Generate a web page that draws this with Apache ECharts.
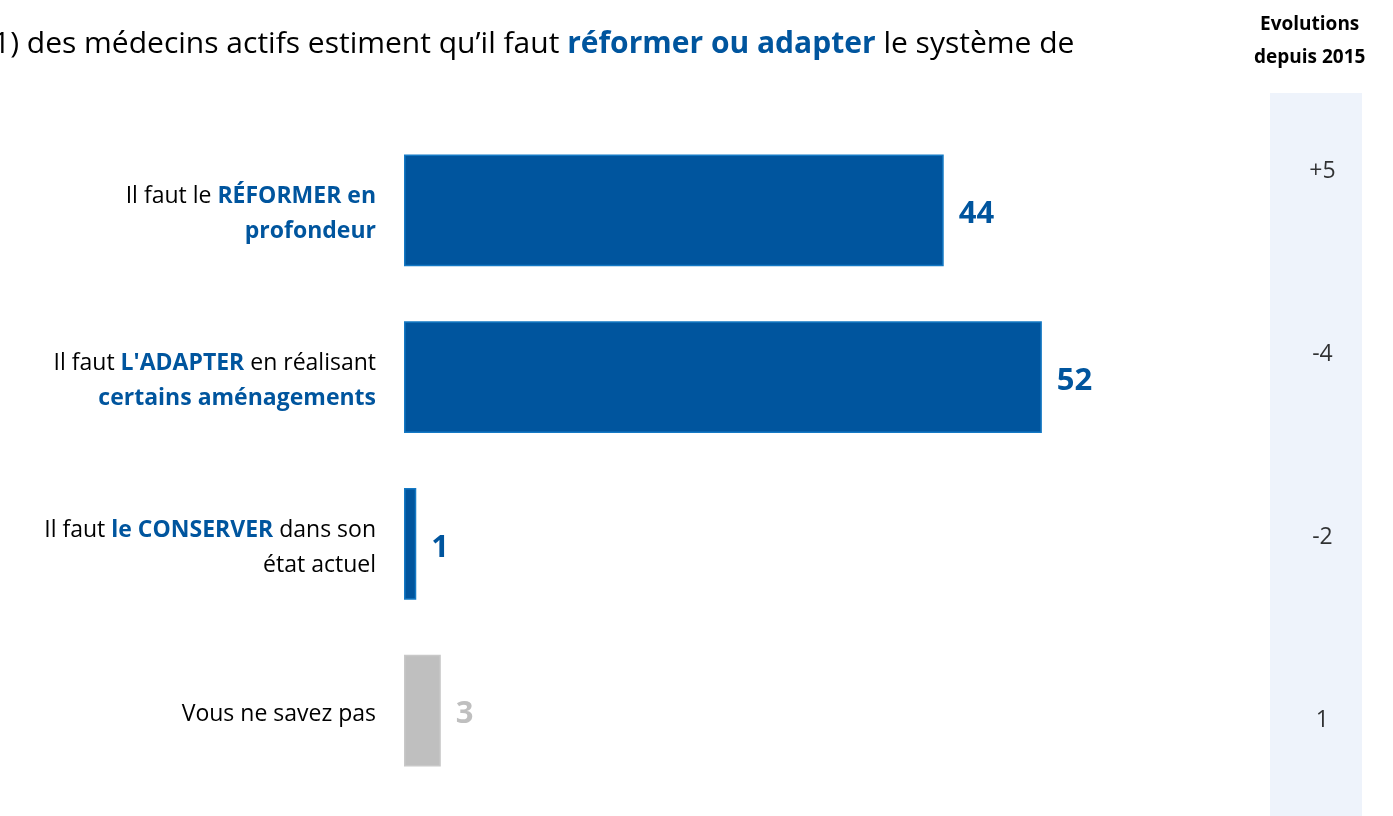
<!DOCTYPE html>
<html>
<head>
<meta charset="utf-8">
<script src="https://cdn.jsdelivr.net/npm/echarts@6/dist/echarts.min.js"></script>
<style>
  html, body { margin: 0; padding: 0; background: #fff; }
  #chart { width: 1393px; height: 816px; }
</style>
</head>
<body>
<div id="chart"></div>
<script>
// categories, top to bottom
var categories = [
  'Il faut le RÉFORMER en profondeur',
  "Il faut L'ADAPTER en réalisant certains aménagements",
  'Il faut le CONSERVER dans son état actuel',
  'Vous ne savez pas'
]
var shares = [44, 52, 1, 3]
var evolutions = ['+5', '-4', '-2', '1']

var blue = '#00559e'
var grey = '#bfbfbf'
var font = 'Open Sans'

// how each category label is split in lines / bold parts
var labelMarkup = {}
labelMarkup[categories[0]] = '{n|Il faut le }{b|RÉFORMER en}\n{b|profondeur}'
labelMarkup[categories[1]] = "{n|Il faut }{b|L'ADAPTER}{n| en réalisant}\n{b|certains aménagements}"
labelMarkup[categories[2]] = '{n|Il faut }{b|le CONSERVER}{n| dans son}\n{n|état actuel}'
labelMarkup[categories[3]] = '{n|Vous ne savez pas}'

var dom = document.getElementById('chart')
var myChart = echarts.init(dom)

var option = {
  animation: false,
  textStyle: { fontFamily: font },
  title: {
    text: '1) des médecins actifs estiment qu\u2019il faut {b|réformer ou adapter} le système de',
    left: -12,
    top: 24,
    textStyle: {
      fontFamily: font,
      fontSize: 30,
      fontWeight: 'normal',
      color: '#000',
      rich: {
        b: { fontFamily: font, fontSize: 30, fontWeight: 'bold', color: blue }
      }
    }
  },
  graphic: [
    {
      type: 'rect',
      shape: { x: 1270, y: 93, width: 92, height: 723 },
      style: { fill: '#eef3fb' },
      z: -10
    },
    {
      type: 'text',
      left: 1254,
      top: 8,
      style: {
        text: 'Evolutions\ndepuis 2015',
        fontFamily: font,
        fontSize: 19,
        fontWeight: 'bold',
        fill: '#000',
        textAlign: 'center',
        lineHeight: 33
      }
    }
  ],
  grid: [
    { left: 404, top: 127, width: 736, height: 667 },
    { left: 1270, top: 80, width: 92, height: 732 }
  ],
  xAxis: [
    { type: 'value', gridIndex: 0, min: 0, max: 60, show: false },
    { type: 'value', gridIndex: 1, min: 0, max: 1, show: false }
  ],
  yAxis: [
    {
      type: 'category',
      gridIndex: 0,
      data: categories,
      inverse: true,
      axisLine: { show: false },
      axisTick: { show: false },
      axisLabel: {
        margin: 28,
        align: 'right',
        padding: [8, 0, 0, 0],
        formatter: function (v) { return labelMarkup[v] },
        rich: {
          n: { fontFamily: font, fontSize: 23, color: '#000', lineHeight: 35 },
          b: { fontFamily: font, fontSize: 23, fontWeight: 'bold', color: blue, lineHeight: 35 }
        }
      }
    },
    {
      type: 'category',
      gridIndex: 1,
      data: categories,
      inverse: true,
      show: false
    }
  ],
  series: [
    {
      type: 'bar',
      xAxisIndex: 0,
      yAxisIndex: 0,
      barCategoryGap: '33%',
      data: shares.map(function (v, i) {
        var last = i === shares.length - 1
        return {
          value: v,
          itemStyle: {
            color: last ? grey : blue,
            borderColor: last ? '#c8c8c8' : '#1479c4',
            borderWidth: 1.5
          },
          label: { color: last ? grey : blue }
        }
      }),
      label: {
        show: true,
        position: 'right',
        distance: 15,
        offset: [0, 4],
        fontFamily: font,
        fontSize: 31,
        fontWeight: 'bold'
      }
    },
    {
      type: 'scatter',
      xAxisIndex: 1,
      yAxisIndex: 1,
      symbolSize: 0,
      data: evolutions.map(function (v, i) { return [0.57, i, v] }),
      label: {
        show: true,
        position: 'inside',
        formatter: function (p) { return p.value[2] },
        fontFamily: font,
        fontSize: 23,
        color: '#000'
      }
    }
  ]
}

myChart.setOption(option, true)
</script>
</body>
</html>
